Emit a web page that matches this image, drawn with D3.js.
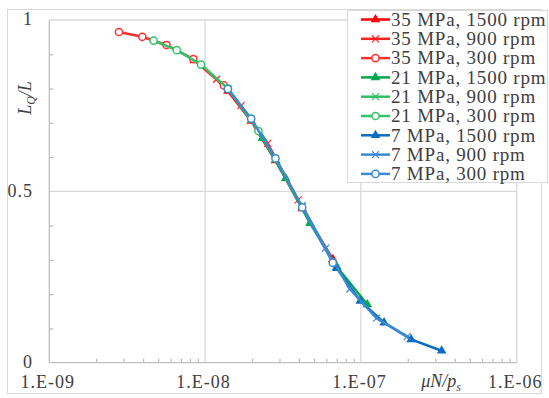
<!DOCTYPE html>
<meta charset="utf-8">
<style>
body { margin: 0; background: #fff; }
svg text { font-family: "Liberation Serif", "DejaVu Serif", "Times New Roman", serif; fill: #404040; }
</style>
<svg width="549" height="398"></svg>
<script src="https://d3js.org/d3.v7.min.js"></script>
<script>

// one entry per series, legend order
var seriesNames = ["35 MPa, 1500 rpm", "35 MPa, 900 rpm", "35 MPa, 300 rpm",
                   "21 MPa, 1500 rpm", "21 MPa, 900 rpm", "21 MPa, 300 rpm",
                   "7 MPa, 1500 rpm", "7 MPa, 900 rpm", "7 MPa, 300 rpm"];
var seriesColors = ["#ff0000", "#ff2020", "#ff3030",
                    "#00a84f", "#2cc062", "#33c46a",
                    "#0a6cc0", "#3a8ad2", "#3a8ad2"];
var seriesMarkers = ["tri", "x", "circle", "tri", "x", "circle", "tri", "x", "circle"];

// x = muN/ps, y = LQ/L
var xs = [
  [1.4e-8, 1.975e-8, 2.83e-8, 4.2e-8, 6.6e-8],
  [8.4e-9, 1.185e-8, 1.7e-8, 2.52e-8, 3.96e-8],
  [2.8e-9, 3.95e-9, 5.65e-9, 8.4e-9, 1.32e-8],
  [2.33e-8, 3.29e-8, 4.71e-8, 7.0e-8, 1.1e-7],
  [1.4e-8, 1.975e-8, 2.83e-8, 4.2e-8, 6.6e-8],
  [4.67e-9, 6.58e-9, 9.42e-9, 1.4e-8, 2.2e-8],
  [7.0e-8, 9.9e-8, 1.41e-7, 2.1e-7, 3.3e-7],
  [4.2e-8, 5.93e-8, 8.5e-8, 1.26e-7, 1.98e-7],
  [1.4e-8, 1.975e-8, 2.83e-8, 4.2e-8, 6.6e-8]
];
var ys = [
  [0.793, 0.705, 0.590, 0.450, 0.302],
  [0.884, 0.827, 0.750, 0.640, 0.475],
  [0.965, 0.951, 0.927, 0.886, 0.809],
  [0.655, 0.538, 0.407, 0.280, 0.170],
  [0.800, 0.710, 0.595, 0.455, 0.295],
  [0.940, 0.912, 0.870, 0.800, 0.676],
  [0.276, 0.180, 0.117, 0.068, 0.035],
  [0.458, 0.334, 0.215, 0.130, 0.076],
  [0.799, 0.712, 0.596, 0.453, 0.292]
];
var xTicks = [1e-9, 1e-8, 1e-7, 1e-6];
var xTickLabels = ["1.E-09", "1.E-08", "1.E-07", "1.E-06"];
var yTicks = [0, 0.5, 1];

var svg = d3.select("svg");
var grid = "#d9d9d9";
var serif = "'Liberation Serif', 'DejaVu Serif', serif";

var x = d3.scaleLog().domain([1e-9, 1e-6]).range([49.3, 516.7]);
var y = d3.scaleLinear().domain([0, 1]).range([362.7, 20]);

// chart border
svg.append("rect").attr("x", 7.5).attr("y", 9.5).attr("width", 534).attr("height", 384)
  .attr("fill", "none").attr("stroke", grid);

// gridlines
svg.append("g").selectAll("line").data(xTicks.slice(1)).enter().append("line")
  .attr("x1", d => x(d)).attr("x2", d => x(d)).attr("y1", y(0)).attr("y2", y(1))
  .attr("stroke", grid).attr("stroke-width", 1.3);
svg.append("g").selectAll("line").data(yTicks.slice(1)).enter().append("line")
  .attr("x1", x(1e-9)).attr("x2", x(1e-6)).attr("y1", d => y(d)).attr("y2", d => y(d))
  .attr("stroke", grid).attr("stroke-width", 1.3);

// axes
var xAxis = d3.axisTop(x).tickValues(d3.range(-9, -6).flatMap(e => d3.range(2, 10).map(m => m * Math.pow(10, e))))
  .tickSize(4).tickFormat("");
var gx = svg.append("g").attr("transform", "translate(0," + y(0) + ")").call(xAxis);
gx.selectAll("line,path").attr("stroke", "#bfbfbf").attr("stroke-width", 1.3);
gx.select("path").attr("d", "M" + x(1e-9) + ",0H" + x(1e-6));

var yAxis = d3.axisRight(y).tickValues(d3.range(1, 10).filter(d => d != 5).map(d => d / 10))
  .tickSize(4).tickFormat("");
var gy = svg.append("g").attr("transform", "translate(" + x(1e-9) + ",0)").call(yAxis);
gy.selectAll("line,path").attr("stroke", "#bfbfbf").attr("stroke-width", 1.3);
gy.select("path").attr("d", "M0," + y(0) + "V" + y(1));

svg.append("g").selectAll("text").data(xTicks).enter().append("text")
  .attr("x", d => x(d) - 1.5).attr("y", 388).attr("text-anchor", "middle")
  .style("font-family", serif).style("font-size", "18px").style("letter-spacing", "1px")
  .text((d, i) => xTickLabels[i]);
svg.append("g").selectAll("text").data(yTicks).enter().append("text")
  .attr("x", 33).attr("y", d => y(d)).attr("dy", "0.3em").attr("text-anchor", "end")
  .style("font-family", serif).style("font-size", "18px").style("letter-spacing", "1px")
  .text(d => d);

// axis titles
var xt = svg.append("text").attr("x", 441).attr("y", 387).attr("text-anchor", "middle")
  .style("font-family", serif).style("font-size", "18px").style("font-style", "italic");
xt.append("tspan").text("\u03bcN/p");
xt.append("tspan").attr("dy", 4).style("font-size", "12px").text("s");

var yt = svg.append("text").attr("transform", "translate(31,98) rotate(-90)")
  .attr("text-anchor", "middle").style("font-family", serif)
  .style("font-size", "18px").style("font-style", "italic");
yt.append("tspan").text("L");
yt.append("tspan").attr("dy", 4).style("font-size", "12px").text("Q");
yt.append("tspan").attr("dy", -4).text("/L");

function marker(g, type, color) {
  if (type == "tri") {
    g.append("path").attr("d", d3.symbol(d3.symbolTriangle, 40)()).attr("fill", color);
  } else if (type == "x") {
    g.append("path").attr("d", "M-3.5,-3.5L3.5,3.5M-3.5,3.5L3.5,-3.5")
      .attr("stroke", color).attr("stroke-width", 1.2).attr("fill", "none");
  } else {
    g.append("circle").attr("r", 3.6).attr("fill", "#fff")
      .attr("stroke", color).attr("stroke-width", 1.5);
  }
}

var line = d3.line().x(d => x(d[0])).y(d => y(d[1]));

seriesNames.forEach(function(name, i) {
  var pts = xs[i].map((v, j) => [v, ys[i][j]]);
  var g = svg.append("g");
  g.append("path").attr("d", line(pts)).attr("fill", "none")
    .attr("stroke", seriesColors[i]).attr("stroke-width", 2.5);
  pts.forEach(function(p) {
    marker(g.append("g").attr("transform", "translate(" + x(p[0]) + "," + y(p[1]) + ")"),
      seriesMarkers[i], seriesColors[i]);
  });
});

// legend
var lg = svg.append("g");
lg.append("rect").attr("x", 347.5).attr("y", 10.5).attr("width", 200).attr("height", 172)
  .attr("fill", "#fff").attr("stroke", grid);
seriesNames.forEach(function(name, i) {
  var ly = 19.5 + i * 19.3;
  lg.append("line").attr("x1", 361).attr("x2", 390).attr("y1", ly).attr("y2", ly)
    .attr("stroke", seriesColors[i]).attr("stroke-width", 2.5);
  marker(lg.append("g").attr("transform", "translate(375.5," + ly + ")"), seriesMarkers[i], seriesColors[i]);
  lg.append("text").attr("x", 391).attr("y", ly).attr("dy", "0.33em")
    .style("font-family", serif).style("font-size", "19px").style("letter-spacing", "0.8px")
    .text(name);
});

</script>
